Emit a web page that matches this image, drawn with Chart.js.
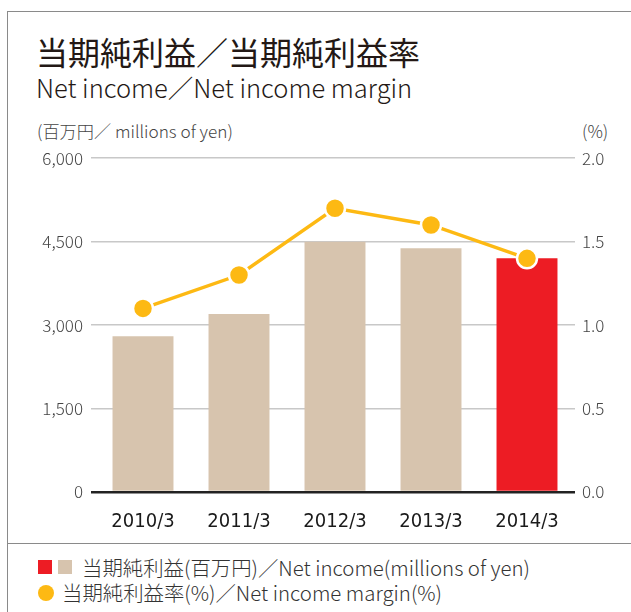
<!DOCTYPE html>
<html>
<head>
<meta charset="utf-8">
<script src="https://cdn.jsdelivr.net/npm/chart.js@4/dist/chart.umd.min.js"></script>
<style>
  html,body{margin:0;padding:0;background:#fff;}
  body{width:631px;height:612px;position:relative;overflow:hidden;font-family:"Noto Sans CJK JP","Noto Sans",sans-serif;color:#231815;}
  .frame-top{position:absolute;left:7px;top:11px;width:624px;height:0;border-top:1.5px solid #8a8a8a;}
  .frame-left{position:absolute;left:7px;top:11px;width:0;height:601px;border-left:1.5px solid #8a8a8a;}
  .sep{position:absolute;left:7px;top:543px;width:624px;height:0;border-top:1.5px solid #8a8a8a;}
  .t1{position:absolute;left:36px;top:31px;font-size:32px;line-height:40px;white-space:nowrap;}
  .t2{position:absolute;left:36px;top:71px;font-size:25.5px;line-height:32px;white-space:nowrap;font-weight:300;}
  .unitL{position:absolute;left:37px;top:120px;font-size:17.2px;line-height:22px;color:#444;font-weight:300;white-space:nowrap;}
  .unitR{position:absolute;left:582px;top:120px;font-size:17.2px;line-height:22px;color:#444;font-weight:300;}
  #wrap{position:absolute;left:0;top:140px;width:631px;height:392px;}
  .lg{position:absolute;font-size:20.4px;line-height:26px;white-space:nowrap;color:#333;font-weight:300;}
  .sq{position:absolute;width:14px;height:14px;}
  .dot{position:absolute;width:16px;height:16px;border-radius:50%;background:#FDB913;}
</style>
</head>
<body>
<div class="frame-top"></div>
<div class="frame-left"></div>
<div class="t1">当期純利益／当期純利益率</div>
<div class="t2">Net income／Net income margin</div>
<div class="unitL">(百万円／ millions of yen)</div>
<div class="unitR">(%)</div>
<div id="wrap"><canvas id="ch"></canvas></div>
<div class="sep"></div>
<div class="sq" style="left:38px;top:560px;background:#ED1C24"></div>
<div class="sq" style="left:58px;top:560px;background:#D7C4AE"></div>
<div class="lg" style="left:82px;top:554px">当期純利益(百万円)／Net income(millions of yen)</div>
<div class="dot" style="left:38px;top:585px"></div>
<div class="lg" style="left:62px;top:579px">当期純利益率(%)／Net income margin(%)</div>
<script>
// data
const years=['2010/3','2011/3','2012/3','2013/3','2014/3'];
const netIncome=[2800,3200,4500,4380,4200];
const margin=[1.1,1.3,1.7,1.6,1.4];
const leftTicks=[0,1500,3000,4500,6000];
const rightTicks=[0,0.5,1.0,1.5,2.0];

const BEIGE='#D7C4AE', RED='#ED1C24', YEL='#FDB913';
const tickFont={family:'"Noto Sans CJK JP","Noto Sans",sans-serif',size:17,weight:'300'};

new Chart(document.getElementById('ch'),{
  data:{
    labels:years,
    datasets:[
      {type:'line',label:'margin',data:margin,yAxisID:'y1',order:0,
       borderColor:YEL,borderWidth:3.5,pointRadius:10,pointBackgroundColor:YEL,
       pointBorderColor:'#fff',pointBorderWidth:2.5,tension:0,clip:false},
      {type:'bar',label:'income',data:netIncome,yAxisID:'y',order:1,
       backgroundColor:netIncome.map((v,i)=>i===netIncome.length-1?RED:BEIGE),
       barPercentage:0.635,categoryPercentage:1}
    ]
  },
  options:{
    responsive:true,maintainAspectRatio:false,animation:false,
    layout:{autoPadding:false,padding:{top:16,left:0,right:0,bottom:0}},
    plugins:{legend:{display:false},tooltip:{enabled:false}},
    scales:{
      x:{
        grid:{display:false},border:{display:false},
        ticks:{color:'#1a1a1a',padding:10,font:{family:'"DejaVu Sans Condensed","Noto Sans",sans-serif',size:20}},
        afterFit:s=>{s.height=40;}
      },
      y:{
        position:'left',min:0,max:6000,
        afterBuildTicks:s=>{s.ticks=leftTicks.map(v=>({value:v}));},
        afterFit:s=>{s.width=95;},
        border:{display:false},
        grid:{drawTicks:true,tickLength:4,
          color:c=>c.tick&&c.tick.value===0?'#222':'#c8c8c8',
          lineWidth:c=>c.tick&&c.tick.value===0?2.5:1.5},
        ticks:{color:'#444',padding:8,font:tickFont,callback:v=>v.toLocaleString('en-US')}
      },
      y1:{
        position:'right',min:0,max:2,
        afterBuildTicks:s=>{s.ticks=rightTicks.map(v=>({value:v}));},
        afterFit:s=>{s.width=56;},
        border:{display:false},
        grid:{display:false,drawTicks:false},
        ticks:{color:'#444',padding:7,font:tickFont,callback:v=>v.toFixed(1)}
      }
    }
  }
});
</script>
</body>
</html>
